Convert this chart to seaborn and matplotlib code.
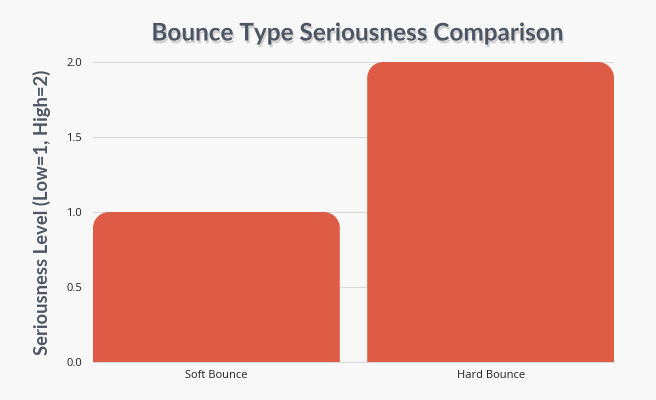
import matplotlib
matplotlib.use("Agg")
import matplotlib.pyplot as plt
import matplotlib.patheffects as pe
from matplotlib.path import Path
from matplotlib.patches import PathPatch
from matplotlib.transforms import IdentityTransform
import seaborn as sns
import pandas as pd

categories = ["Soft Bounce", "Hard Bounce"]
seriousness = [1, 2]

BG = "#f8f8f8"
BAR = "#de5b45"
TXT = "#4b5563"

sns.set_theme(style="white")
plt.rcParams["font.family"] = ["Open Sans", "DejaVu Sans"]

fig = plt.figure(figsize=(6.56, 4.0), dpi=100, facecolor=BG)
ax = fig.add_axes([93/656, 1-362/400, (614-93)/656, 300/400])
ax.set_facecolor(BG)

df = pd.DataFrame({"cat": categories, "val": seriousness})
sns.barplot(data=df, x="cat", y="val", color=BAR, width=0.9, ax=ax, saturation=1)

ax.set_xlim(-0.45, 1.45)
ax.set_ylim(0, 2.0)
ax.set_yticks([0, 0.5, 1.0, 1.5, 2.0])
ax.set_yticklabels(["0.0", "0.5", "1.0", "1.5", "2.0"])
ax.yaxis.grid(True, color="#d9d9d9", linewidth=0.8)
ax.set_axisbelow(True)
for s in ["top", "right", "left"]:
    ax.spines[s].set_visible(False)
ax.spines["bottom"].set_color("#d9d9d9")
ax.spines["bottom"].set_linewidth(0.8)
ax.tick_params(axis="both", length=0, labelsize=8, colors="#222222", pad=6)
ax.tick_params(axis="y", pad=8)
ax.set_xlabel("")
ax.set_ylabel("Seriousness Level (Low=1, High=2)", fontsize=13.2, fontweight="bold",
              color=TXT, labelpad=11, family=["Lato", "DejaVu Sans"])

fig.canvas.draw()
# replace bars with rounded-top versions
r = 16
for p in list(ax.patches):
    x0, y0 = p.get_x(), p.get_y()
    w, h = p.get_width(), p.get_height()
    (dx0, dy0) = ax.transData.transform((x0, y0))
    (dx1, dy1) = ax.transData.transform((x0 + w, y0 + h))
    k = 0.5523 * r
    verts = [
        (dx0, dy0), (dx0, dy1 - r),
        (dx0, dy1 - r + k), (dx0 + r - k, dy1), (dx0 + r, dy1),
        (dx1 - r, dy1),
        (dx1 - r + k, dy1), (dx1, dy1 - r + k), (dx1, dy1 - r),
        (dx1, dy0), (dx0, dy0),
    ]
    codes = [Path.MOVETO, Path.LINETO,
             Path.CURVE4, Path.CURVE4, Path.CURVE4,
             Path.LINETO,
             Path.CURVE4, Path.CURVE4, Path.CURVE4,
             Path.LINETO, Path.CLOSEPOLY]
    patch = PathPatch(Path(verts, codes), facecolor=BAR, edgecolor="none",
                      transform=IdentityTransform(), zorder=3)
    fig.add_artist(patch)
    p.set_visible(False)

t = fig.text(357/656, 1-33/400, "Bounce Type Seriousness Comparison", ha="center", va="center",
             fontsize=17.5, fontweight="bold", color=TXT,
             family=["Lato", "DejaVu Sans"])
t.set_path_effects([pe.SimplePatchShadow(offset=(1, -2), shadow_rgbFace="#888888", alpha=0.35),
                    pe.Normal()])

fig.savefig("out.png", dpi=100, facecolor=BG)
